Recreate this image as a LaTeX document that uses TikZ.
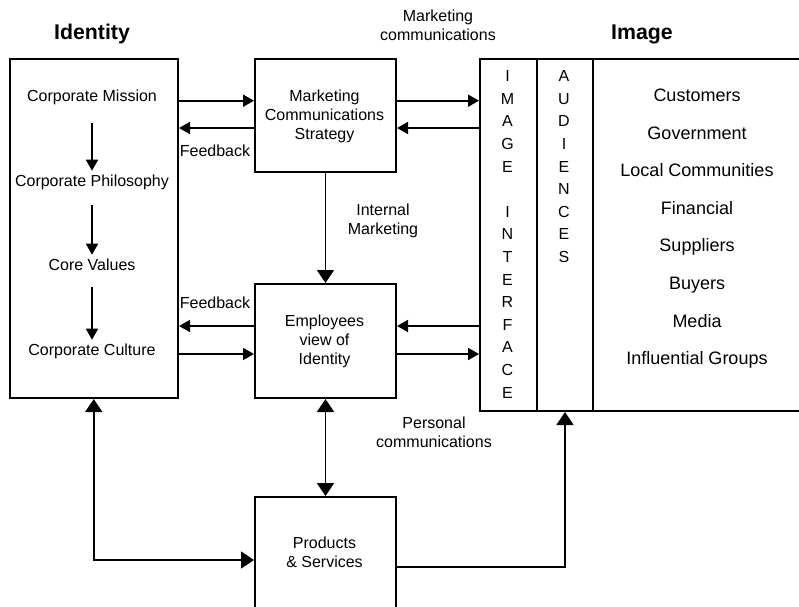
\documentclass[tikz,border=0pt]{standalone}
\usepackage{fontspec}
\setmainfont{Liberation Sans}
\usetikzlibrary{arrows.meta}
\tikzset{
  box/.style={draw, line width=2pt, anchor=north west, inner sep=0pt},
  txt/.style={font=\fontsize{16}{19}\selectfont, align=center, inner sep=0pt},
  lbl/.style={txt, anchor=base, yshift=-5.7pt},
  big/.style={font=\fontsize{18}{22}\selectfont, inner sep=0pt, anchor=base, yshift=-6.5pt},
  ttl/.style={font=\bfseries\fontsize{21.3}{25}\selectfont, inner sep=0pt, anchor=base, yshift=-7.7pt},
  letter/.style={font=\fontsize{16}{19}\selectfont, inner sep=0pt, anchor=base, yshift=-5.7pt},
  sarr/.style={-{Triangle[length=11pt,width=12pt]}, line width=1.7pt},
  barr/.style={-{Triangle[length=13pt,width=17pt]}, line width=1.7pt},
  bbarr/.style={{Triangle[length=13pt,width=17pt]}-{Triangle[length=13pt,width=17pt]}, line width=1.7pt},
}
\begin{document}
\begin{tikzpicture}[x=1pt,y=-1pt]
\path[use as bounding box] (0,0) rectangle (799,606);
\fill[white] (0,0) rectangle (799,606);
\clip (0,0) rectangle (799,606);

% titles
\node[ttl] (tid) at (92,32) {Identity};
\node[ttl] (tim) at (642,32) {Image};
\node[txt] (mc) at (438,25.5) {Marketing\\communications};

% boxes
\node[box, minimum width=168.5pt, minimum height=339pt] (id) at (8.5,58) {};
\node[box, minimum width=141pt, minimum height=113pt] (mcs) at (254,58) {};
\node[box, minimum width=141pt, minimum height=114pt] (emp) at (254,283) {};
\node[box, minimum width=141pt, minimum height=150pt] (ps) at (254,496) {};
\node[box, minimum width=57pt, minimum height=352pt] (iface) at (479,58) {};
\node[box, minimum width=56pt, minimum height=352pt] (aud) at (536,58) {};
\node[box, minimum width=240pt, minimum height=352pt] (grp) at (592,58) {};

% box texts
\node[txt] (mcst) at (324.5,116.5) {Marketing\\Communications\\Strategy};
\node[txt] (empt) at (324.5,341.5) {Employees\\view of\\Identity};
\node[txt] (pst) at (324.5,552.5) {Products\\\& Services};

% identity contents
\node[lbl] (cm) at (92,96) {Corporate Mission};
\node[lbl] (cp) at (92,181) {Corporate Philosophy};
\node[lbl] (cv) at (92,265) {Core Values};
\node[lbl] (cc) at (92,350) {Corporate Culture};
\draw[sarr] ([yshift=-21pt]cm.base) -- ([yshift=16pt]cp.base);
\draw[sarr] ([yshift=-18pt]cp.base) -- ([yshift=16pt]cv.base);
\draw[sarr] ([yshift=-16pt]cv.base) -- ([yshift=16pt]cc.base);

% labels
\node[lbl] (fb1) at (215,151) {Feedback};
\node[lbl] (fb2) at (215,303) {Feedback};
\node[txt] (im) at (383,221) {Internal\\Marketing};
\node[txt] (pc) at (434,432.5) {Personal\\communications};

% image interface / audiences letters
\foreach \l [count=\i from 0] in {I,M,A,G,E}
  \node[letter] (ia\i) at (507.5,{76+\i*22.6}) {\l};
\foreach \l [count=\i from 6] in {I,N,T,E,R,F,A,C,E}
  \node[letter] (ib\i) at (507.5,{76+\i*22.6}) {\l};
\foreach \l [count=\i from 0] in {A,U,D,I,E,N,C,E,S}
  \node[letter] (au\i) at (564,{76+\i*22.6}) {\l};

% audience groups
\foreach \t [count=\i from 0] in {Customers,Government,Local Communities,Financial,Suppliers,Buyers,Media,Influential Groups}
  \node[big] (g\i) at (697,{95+\i*37.6}) {\t};

% level coordinates
\coordinate (ya) at (0,100.7);
\coordinate (yb) at (0,128);
\coordinate (yc) at (0,326);
\coordinate (yd) at (0,354);
\coordinate (ye) at (0,560);
\coordinate (yf) at (0,567);

% horizontal arrows
\draw[sarr] (id.east |- ya) -- (mcs.west |- ya);
\draw[sarr] (mcs.west |- yb) -- (id.east |- yb);
\draw[sarr] (mcs.east |- ya) -- (iface.west |- ya);
\draw[sarr] (iface.west |- yb) -- (mcs.east |- yb);
\draw[sarr] (emp.west |- yc) -- (id.east |- yc);
\draw[sarr] (id.east |- yd) -- (emp.west |- yd);
\draw[sarr] (iface.west |- yc) -- (emp.east |- yc);
\draw[sarr] (emp.east |- yd) -- (iface.west |- yd);

% vertical arrows
\draw[barr] (mcs.south) -- (emp.north);
\draw[bbarr] (emp.south) -- (ps.north);
\draw[bbarr] (id.south) |- (ps.west |- ye);
\draw[barr] (ps.east |- yf) -| (aud.south);
\end{tikzpicture}
\end{document}
